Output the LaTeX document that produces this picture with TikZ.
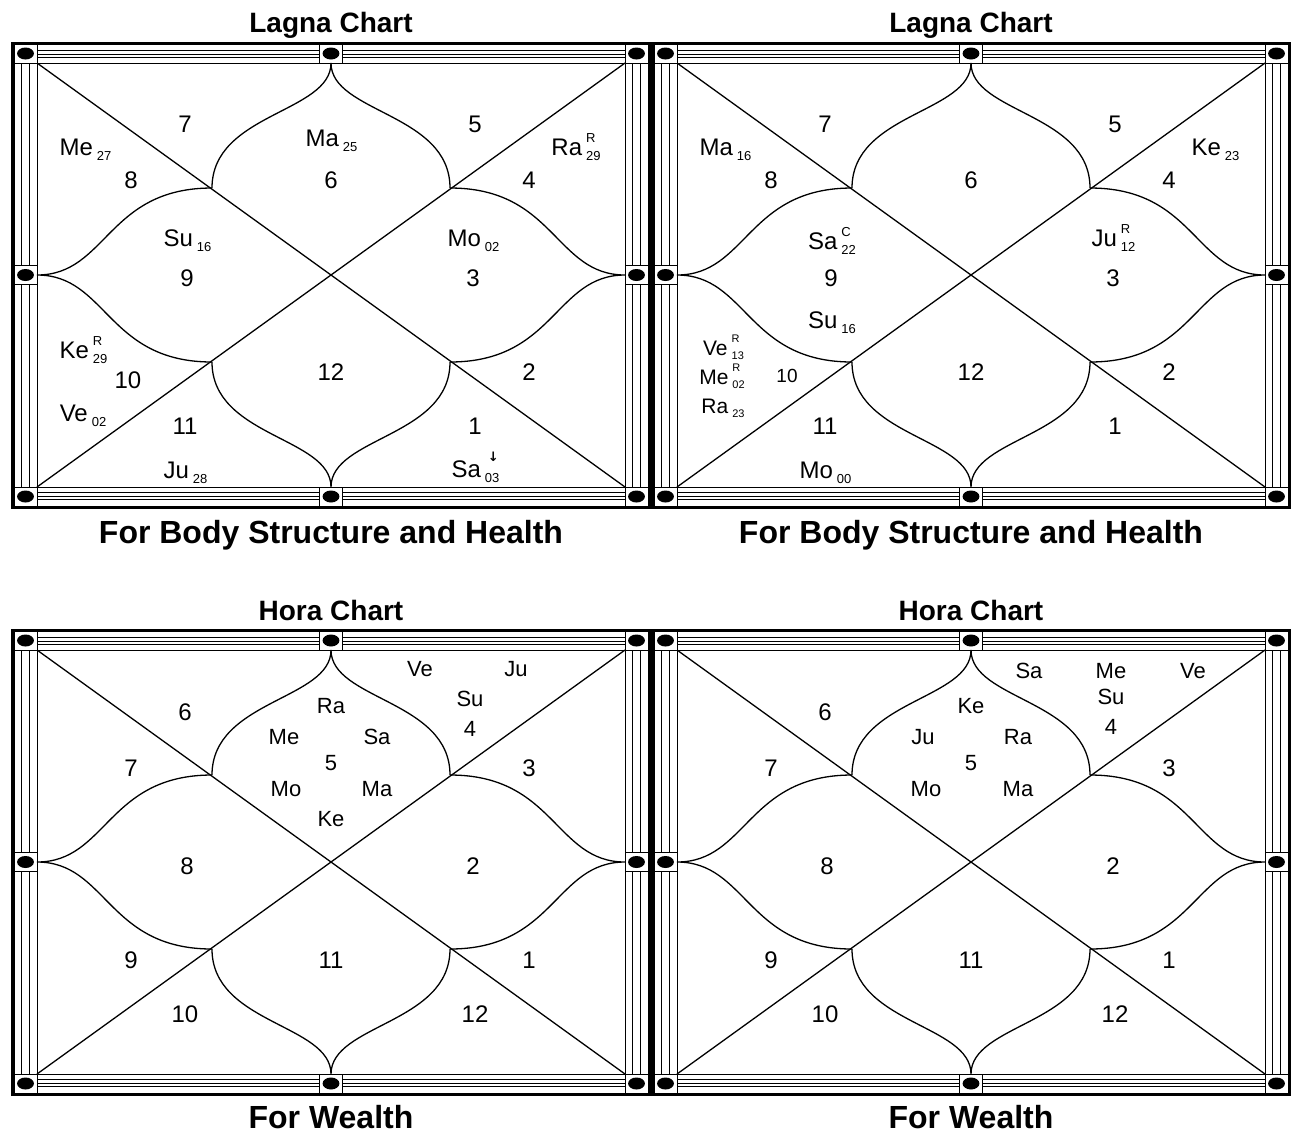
\documentclass[tikz,border=0pt]{standalone}
\usepackage{fontspec}
\setmainfont{Liberation Sans}
\newfontfamily\arrowfont{DejaVu Sans}

% planet with degree (sub) and flag (sup)
\newcommand{\gr}[3]{#1\hspace{2pt}\rlap{\raisebox{6.5pt}{\fontsize{6.5}{7}\selectfont #2}}\raisebox{-2.5pt}{\fontsize{6.5}{7}\selectfont #3}}
\newcommand{\grsm}[3]{#1\hspace{2pt}\rlap{\raisebox{6.5pt}{\fontsize{5.5}{6}\selectfont #2}}\raisebox{-2pt}{\fontsize{5.5}{6}\selectfont #3}}
\newcommand{\grdown}[2]{#1\hspace{2pt}\rlap{\raisebox{8pt}{\hspace{1.5pt}\fontsize{6.5}{7}\arrowfont\bfseries ↓}}\raisebox{-2.5pt}{\fontsize{6.5}{7}\selectfont #2}}

% one north indian chart, centred at (#2,#3)
\newcommand{\kundli}[3]{%
  \begin{scope}[shift={(#2,#3)}]
    % frame bands
    \foreach \u in {217.5,221,224.5}
      \draw[band] (-317,-\u) -- (317,-\u) (-317,\u) -- (317,\u);
    \foreach \u in {301.7,309.3}
      \draw[band] (-\u,-231) -- (-\u,231) (\u,-231) -- (\u,231);
    \draw[band] (-317,-231) rectangle (317,231);
    \draw[band] (-294,-212) rectangle (294,212);
    % knobs
    \foreach \kx/\ky in {-305.5/-221.5,0/-221.5,305.5/-221.5,-305.5/0,305.5/0,-305.5/221.5,0/221.5,305.5/221.5} {
      \filldraw[knob] (\kx-11.5,\ky-9.5) rectangle (\kx+11.5,\ky+9.5);
      \fill (\kx,\ky) ellipse [x radius=4.2pt, y radius=3pt];
    }
    % corners, mid sides, petal tips
    \coordinate (#1-nw) at (-294,-212);
    \coordinate (#1-ne) at (294,-212);
    \coordinate (#1-sw) at (-294,212);
    \coordinate (#1-se) at (294,212);
    \coordinate (#1-n) at (0,-212);
    \coordinate (#1-s) at (0,212);
    \coordinate (#1-w) at (-294,0);
    \coordinate (#1-e) at (294,0);
    \coordinate (#1-pnw) at (-119,-87);
    \coordinate (#1-pne) at (119,-87);
    \coordinate (#1-psw) at (-119,87);
    \coordinate (#1-pse) at (119,87);
    % diagonals
    \draw[lotus] (#1-nw) -- (#1-se);
    \draw[lotus] (#1-sw) -- (#1-ne);
    % petals
    \draw[lotus] (#1-pnw) .. controls (-119,-162) and (0,-162) .. (#1-n)
                 .. controls (0,-162) and (119,-162) .. (#1-pne);
    \draw[lotus] (#1-psw) .. controls (-119,162) and (0,162) .. (#1-s)
                 .. controls (0,162) and (119,162) .. (#1-pse);
    \draw[lotus] (#1-pnw) .. controls (-224,-87) and (-224,0) .. (#1-w)
                 .. controls (-224,0) and (-224,87) .. (#1-psw);
    \draw[lotus] (#1-pne) .. controls (224,-87) and (224,0) .. (#1-e)
                 .. controls (224,0) and (224,87) .. (#1-pse);
  \end{scope}}

\begin{document}
\begin{tikzpicture}[
    x=0.5pt,
    y=-0.5pt,
    band/.style={line width=0.5pt},
    knob/.style={fill=white, draw=black, line width=0.5pt},
    lotus/.style={line width=0.65pt},
    rim/.style={line width=1.5pt},
    house/.style={font=\fontsize{12}{14}\selectfont, anchor=base, inner sep=0pt},
    hsmall/.style={font=\fontsize{11}{13}\selectfont, anchor=base, inner sep=0pt},
    hten/.style={font=\fontsize{10.5}{12}\selectfont, anchor=base, inner sep=0pt},
    heading/.style={font=\fontsize{14}{16}\selectfont\bfseries, anchor=base, inner sep=0pt},
    purpose/.style={font=\fontsize{16}{18}\selectfont\bfseries, anchor=base, inner sep=0pt}
]

\useasboundingbox (0,0) rectangle (1291,1132);
\fill[white] (0,0) rectangle (1291,1132);

% =========================
% Frames
% =========================
\kundli{la}{331}{275}
\kundli{lb}{971}{275}
\kundli{ha}{331}{862}
\kundli{hb}{971}{862}

\draw[rim] (12.5,43) rectangle (1289.5,507);
\draw[rim] (12.5,630) rectangle (1289.5,1094);
\draw[line width=2.5pt] (651,43) -- (651,507);
\draw[line width=2.5pt] (651,630) -- (651,1094);

% =========================
% Headings
% =========================
\node[heading] (tla) at (331,32) {Lagna Chart};
\node[heading] (tlb) at (971,32) {Lagna Chart};
\node[purpose] (pla) at (331,543) {For Body Structure and Health};
\node[purpose] (plb) at (971,543) {For Body Structure and Health};
\node[heading] (tha) at (331,620) {Hora Chart};
\node[heading] (thb) at (971,620) {Hora Chart};
\node[purpose] (pha) at (331,1128) {For Wealth};
\node[purpose] (phb) at (971,1128) {For Wealth};

% =========================
% Lagna chart, left
% =========================
\node[house] (la7) at (185,132.5) {7};
\node[house] (la8) at (131,188.5) {8};
\node[house] (la6) at (331,188.5) {6};
\node[house] (la5) at (475,132.5) {5};
\node[house] (la4) at (529,188.5) {4};
\node[house] (la9) at (187,286.5) {9};
\node[house] (la3) at (473,286.5) {3};
\node[house] (la10) at (128,388.5) {10};
\node[house] (la12) at (331,380.5) {12};
\node[house] (la2) at (529,380.5) {2};
\node[house] (la11) at (185,434.5) {11};
\node[house] (la1) at (475,434.5) {1};

\node[house] (laMe) at (85.5,155.5) {\gr{Me}{}{27}};
\node[house] (laMa) at (331.5,146) {\gr{Ma}{}{25}};
\node[house] (laRa) at (576,155) {\gr{Ra}{R}{29}};
\node[house] (laSu) at (187.5,246) {\gr{Su}{}{16}};
\node[house] (laMo) at (473.5,246) {\gr{Mo}{}{02}};
\node[house] (laKe) at (83.5,358) {\gr{Ke}{R}{29}};
\node[house] (laVe) at (83,421) {\gr{Ve}{}{02}};
\node[house] (laJu) at (185.5,478) {\gr{Ju}{}{28}};
\node[house] (laSa) at (475.5,477) {\grdown{Sa}{03}};

% =========================
% Lagna chart, right
% =========================
\node[house] (lb7) at (825,132.5) {7};
\node[house] (lb8) at (771,188.5) {8};
\node[house] (lb6) at (971,188.5) {6};
\node[house] (lb5) at (1115,132.5) {5};
\node[house] (lb4) at (1169,188.5) {4};
\node[house] (lb9) at (831,286.5) {9};
\node[house] (lb3) at (1113,286.5) {3};
\node[hten, font=\fontsize{9.5}{11}\selectfont] (lb10) at (787,382.5) {10};
\node[house] (lb12) at (971,380.5) {12};
\node[house] (lb2) at (1169,380.5) {2};
\node[house] (lb11) at (825,434.5) {11};
\node[house] (lb1) at (1115,434.5) {1};

\node[house] (lbMa) at (725.5,155) {\gr{Ma}{}{16}};
\node[house] (lbKe) at (1215.5,155) {\gr{Ke}{}{23}};
\node[house] (lbSa) at (832,249) {\gr{Sa}{C}{22}};
\node[house] (lbJu) at (1113.5,246) {\gr{Ju}{R}{12}};
\node[house] (lbSu) at (832,328) {\gr{Su}{}{16}};
\node[hten] (lbVe) at (723.5,355) {\grsm{Ve}{R}{13}};
\node[hten] (lbMe) at (722,384) {\grsm{Me}{R}{02}};
\node[hten] (lbRa) at (723,413) {\grsm{Ra}{}{23}};
\node[house] (lbMo) at (825.5,478) {\gr{Mo}{}{00}};

% =========================
% Hora chart, left
% =========================
\node[house] (ha6) at (185,720.5) {6};
\node[house] (ha7) at (131,776.5) {7};
\node[house] (ha3) at (529,776.5) {3};
\node[house] (ha8) at (187,874.5) {8};
\node[house] (ha2) at (473,874.5) {2};
\node[house] (ha9) at (131,968.5) {9};
\node[house] (ha11) at (331,968.5) {11};
\node[house] (ha1) at (529,968.5) {1};
\node[house] (ha10) at (185,1022.5) {10};
\node[house] (ha12) at (475,1022.5) {12};

\node[hsmall] (haVe) at (420,676) {Ve};
\node[hsmall] (haJu) at (516,676) {Ju};
\node[hsmall] (haSu) at (470,706) {Su};
\node[hsmall] (ha4) at (470,736) {4};
\node[hsmall] (haRa) at (331,713) {Ra};
\node[hsmall] (haMe) at (284,744) {Me};
\node[hsmall] (haSa) at (377,744) {Sa};
\node[hsmall] (ha5) at (331,770) {5};
\node[hsmall] (haMo) at (286,796) {Mo};
\node[hsmall] (haMa) at (377,796) {Ma};
\node[hsmall] (haKe) at (331,826) {Ke};

% =========================
% Hora chart, right
% =========================
\node[house] (hb6) at (825,720.5) {6};
\node[house] (hb7) at (771,776.5) {7};
\node[house] (hb3) at (1169,776.5) {3};
\node[house] (hb8) at (827,874.5) {8};
\node[house] (hb2) at (1113,874.5) {2};
\node[house] (hb9) at (771,968.5) {9};
\node[house] (hb11) at (971,968.5) {11};
\node[house] (hb1) at (1169,968.5) {1};
\node[house] (hb10) at (825,1022.5) {10};
\node[house] (hb12) at (1115,1022.5) {12};

\node[hsmall] (hbSa) at (1029,678) {Sa};
\node[hsmall] (hbMe) at (1111,678) {Me};
\node[hsmall] (hbVe) at (1193,678) {Ve};
\node[hsmall] (hbSu) at (1111,704) {Su};
\node[hsmall] (hb4) at (1111,734) {4};
\node[hsmall] (hbKe) at (971,713) {Ke};
\node[hsmall] (hbJu) at (923,744) {Ju};
\node[hsmall] (hbRa) at (1018,744) {Ra};
\node[hsmall] (hb5) at (971,770) {5};
\node[hsmall] (hbMo) at (926,796) {Mo};
\node[hsmall] (hbMa) at (1018,796) {Ma};

\end{tikzpicture}
\end{document}
